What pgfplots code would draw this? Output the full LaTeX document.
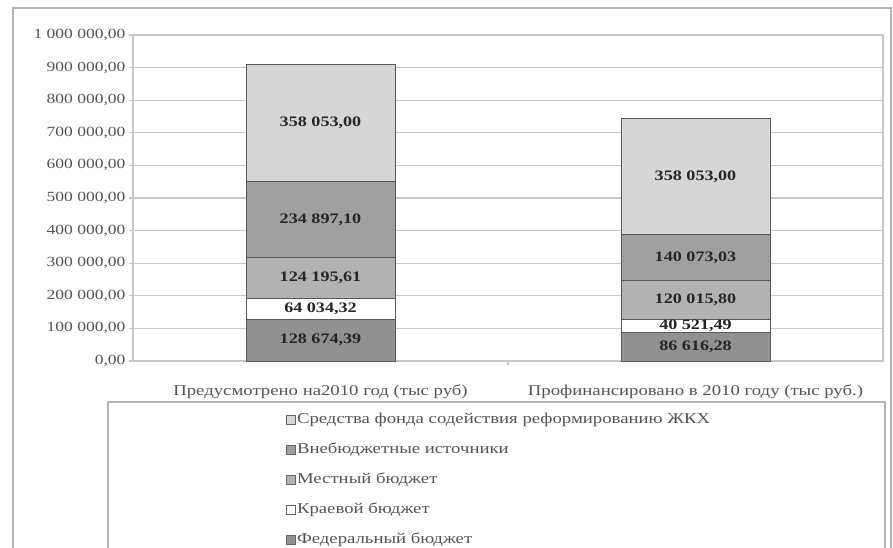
\documentclass[border=0pt]{standalone}
\usepackage{graphicx}
\usepackage{fontspec}
\setmainfont{Liberation Serif}
\usepackage{pgfplots}
\pgfplotsset{compat=1.18}

% the reference is stretched sideways, so the text is too
\newcommand{\sx}[1]{\scalebox{1.25}[1]{#1}}

\definecolor{cFed}{RGB}{145,145,145}
\definecolor{cKrai}{RGB}{255,255,255}
\definecolor{cMest}{RGB}{178,178,178}
\definecolor{cVne}{RGB}{160,160,160}
\definecolor{cFond}{RGB}{214,214,214}
\definecolor{cGrid}{RGB}{200,200,200}
\definecolor{cText}{RGB}{85,85,85}

\begin{document}
\begin{tikzpicture}[x=1pt,y=1pt]
\useasboundingbox (0,0) rectangle (893,547);
% outer frame and legend frame
\draw[cGrid!90!black, line width=1.3pt] (13,-5) rectangle (891,539);
\draw[cGrid!90!black, line width=1.3pt] (108,-5) rectangle (885,145);

\begin{axis}[
  at={(133pt,186pt)}, anchor=south west,
  scale only axis,
  width=750pt, height=326pt,
  ybar stacked, bar width=149pt,
  xmin=-0.5, xmax=1.5,
  ymin=0, ymax=1000,
  axis line style={cGrid, line width=1.3pt},
  ymajorgrids, grid style={cGrid, line width=1.3pt},
  ytick={0,100,...,1000},
  yticklabels={\sx{0,00},\sx{100 000,00},\sx{200 000,00},\sx{300 000,00},\sx{400 000,00},
    \sx{500 000,00},\sx{600 000,00},\sx{700 000,00},\sx{800 000,00},\sx{900 000,00},\sx{1 000 000,00}},
  ytick pos=left, xtick pos=bottom, tick align=outside,
  major tick length=4pt,
  ytick style={cGrid, line width=1.3pt},
  yticklabel style={font=\fontsize{14}{16}\selectfont, text=cText},
  xtick={0,1},
  xticklabels={\sx{Предусмотрено на2010 год (тыс руб)},\sx{Профинансировано в 2010 году (тыс руб.)}},
  xtick style={draw=none},
  xticklabel style={font=\fontsize{15}{17}\selectfont, text=cText, yshift=-16pt},
  extra x ticks={0.5},
  extra x tick labels={},
  extra x tick style={xtick style={draw=cGrid, line width=1.3pt}, major tick length=4pt},
  every axis plot/.append style={draw=black!65, line width=1pt},
  point meta=explicit symbolic,
  nodes near coords={\sx{\pgfplotspointmeta}},
  every node near coord/.append style={anchor=center,
    font=\bfseries\fontsize{14.5}{16}\selectfont, text=black!85},
  reverse legend,
  area legend,
  legend cell align=left,
  legend style={at={(0.2,-0.15)}, anchor=north west, draw=none, fill=none,
    font=\fontsize{15}{17}\selectfont, text=cText, row sep=14pt,
    nodes={inner sep=1pt, text height=10pt, text depth=4pt}},
  legend image code/.code={\draw[#1, draw=black!60, line width=0.8pt] (0pt,-4.5pt) rectangle (9pt,4.5pt);},
]
\addplot[fill=cFed] coordinates {(0,128.67439) [128 674,39] (1,86.61628) [86 616,28]};
\addlegendentry{\sx{Федеральный бюджет}}
\addplot[fill=cKrai] coordinates {(0,64.03432) [64 034,32] (1,40.52149) [40 521,49]};
\addlegendentry{\sx{Краевой бюджет}}
\addplot[fill=cMest] coordinates {(0,124.19561) [124 195,61] (1,120.01580) [120 015,80]};
\addlegendentry{\sx{Местный бюджет}}
\addplot[fill=cVne] coordinates {(0,234.89710) [234 897,10] (1,140.07303) [140 073,03]};
\addlegendentry{\sx{Внебюджетные источники}}
\addplot[fill=cFond] coordinates {(0,358.053) [358 053,00] (1,358.053) [358 053,00]};
\addlegendentry{\sx{Средства фонда содействия реформированию ЖКХ}}
\end{axis}
\end{tikzpicture}
\end{document}
